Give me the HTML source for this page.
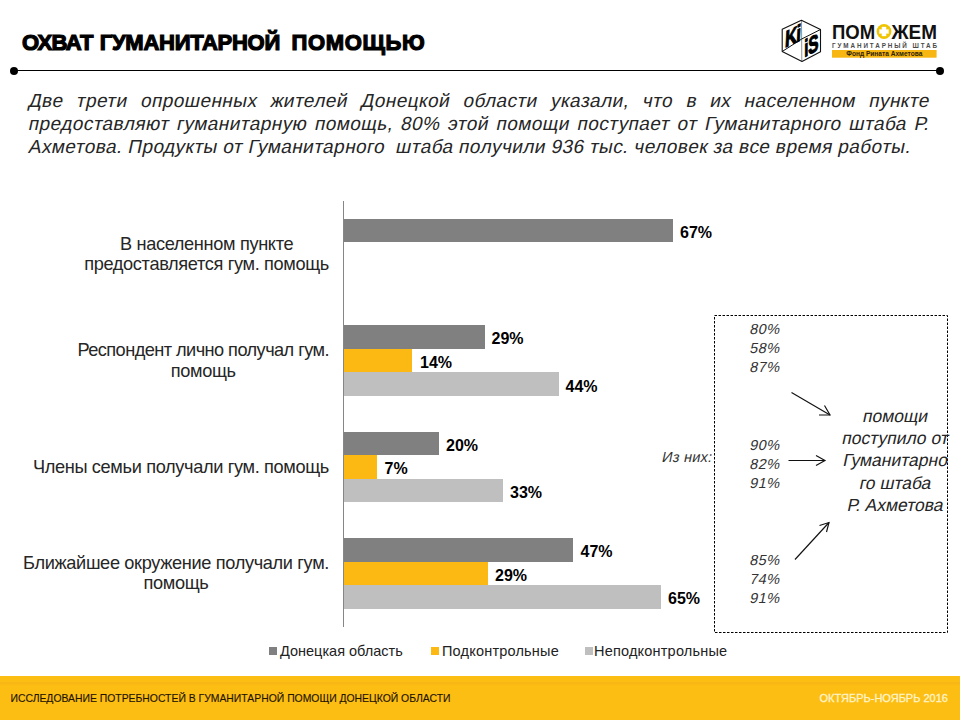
<!DOCTYPE html>
<html><head><meta charset="utf-8">
<style>
*{margin:0;padding:0;box-sizing:border-box}
html,body{width:960px;height:720px;overflow:hidden;background:#fff}
body{position:relative;font-family:"Liberation Sans",sans-serif;color:#000}
.abs{position:absolute;white-space:nowrap}
#title{left:22px;top:30px;font-size:22.6px;font-weight:bold;line-height:26px;transform-origin:0 0;transform:scaleX(0.975);-webkit-text-stroke:1.2px #000}
#rule{left:14px;top:69.5px;width:926px;height:1.5px;background:#000}
.dot{width:8px;height:8px;border-radius:50%;background:#000}
.para{left:28px;width:901px;font-size:19px;line-height:23px;letter-spacing:0.45px;text-align:justify;text-align-last:justify;color:#262626;transform-origin:0 17px;transform:skewX(-12deg)}
.obl{position:absolute;white-space:nowrap;transform-origin:0 15px;transform:skewX(-12deg)}
.cat{font-size:18.2px;letter-spacing:-0.35px;line-height:20.5px;color:#262626;text-align:center;display:inline-block}
.catw{position:absolute;right:631px;text-align:right}
.bar{position:absolute;left:344px;height:23.67px}
.d{background:#808080}.o{background:#FDB913}.l{background:#BFBFBF}
.val{position:absolute;font-size:16px;font-weight:bold;line-height:18px;white-space:nowrap}
.pct{position:absolute;font-size:14.5px;letter-spacing:0.5px;line-height:19px;color:#333;white-space:nowrap}
.leg{position:absolute;top:644px;font-size:14.5px;letter-spacing:0.2px;line-height:14px;color:#222;white-space:nowrap}
.sq{position:absolute;top:647px;width:7.5px;height:7.5px}
#footer{left:0;top:676px;width:960px;height:44px;background:#FDBE14}
.box{position:absolute;left:830px;width:130px;font-size:17.5px;line-height:22px;text-align:center;color:#262626;white-space:nowrap}
</style></head><body>
<div id="title" class="abs"><span style="letter-spacing:-0.7px">ОХВАТ</span><span style="letter-spacing:1px"> </span><span style="letter-spacing:-0.3px">ГУМАНИТАРНОЙ</span><span style="letter-spacing:-0.4px">&nbsp; </span><span style="letter-spacing:0.65px">ПОМОЩЬЮ</span></div>
<div id="rule" class="abs"></div>
<div class="abs dot" style="left:10px;top:66.5px"></div>
<div class="abs dot" style="left:936px;top:66.5px"></div>

<!-- logo -->
<svg class="abs" style="left:770px;top:10px" width="190" height="60" viewBox="770 10 190 60">
  <g stroke="#888" stroke-width="0.9">
    <line x1="801.5" y1="20.5" x2="801.8" y2="61"/>
  </g>
  <g stroke="#111" stroke-width="1" fill="none">
    <line x1="801.7" y1="39" x2="820.5" y2="29.5"/>
    <line x1="801.7" y1="39" x2="782.2" y2="51.5"/>
  </g>
  <g font-family="Liberation Sans" font-weight="bold" fill="#000" stroke="#000" stroke-width="1.1">
    <text transform="translate(784.8 47.8) skewY(-25.2) skewX(-3) scale(0.72 1)" font-size="23">K</text>
    <text transform="translate(796 42.6) skewY(-25.2) skewX(-3) scale(0.72 1)" font-size="23">i</text>
    <text transform="translate(804.2 57.2) skewY(-26.8) scale(0.62 1)" font-size="24">i</text>
    <text transform="translate(808.3 55) skewY(-26.8) scale(0.64 1)" font-size="24">S</text>
  </g>
  <g fill="none" stroke="#111" stroke-width="1.1" stroke-linejoin="round">
    <polygon points="801.4,20.2 820.5,29.5 820.5,51.8 802,61.4 782.2,51.5 782.2,29.2"/>
  </g>
  <text x="832" y="38.6" font-family="Liberation Sans" font-weight="bold" font-size="20" fill="#111" textLength="43.2" lengthAdjust="spacingAndGlyphs">ПОМ</text>
  <text x="891.5" y="38.6" font-family="Liberation Sans" font-weight="bold" font-size="20" fill="#111" textLength="45.4" lengthAdjust="spacingAndGlyphs">ЖЕМ</text>
  <circle cx="884" cy="31.5" r="7.4" fill="#EFC400"/>
  <path d="M881.9 26.9h4.2v2.5h2.5v4.2h-2.5v2.5h-4.2v-2.5h-2.5v-4.2h2.5z" fill="#fff" stroke="#fff" stroke-width="0.3" stroke-linejoin="round"/>
  <text x="832" y="47.8" font-family="Liberation Sans" font-weight="bold" font-size="6.3" fill="#4a4a4a" textLength="105" lengthAdjust="spacing">ГУМАНИТАРНЫЙ  ШТАБ</text>
  <rect x="832" y="50" width="104.6" height="7.7" fill="#F7B612"/>
  <text x="884.3" y="56.4" font-family="Liberation Sans" font-weight="bold" font-size="7.6" fill="#2e2200" text-anchor="middle" textLength="76" lengthAdjust="spacingAndGlyphs">Фонд Рината Ахметова</text>
</svg>

<div class="abs para" style="top:89px">Две трети опрошенных жителей Донецкой области указали, что в их населенном пункте</div>
<div class="abs para" style="top:112px">предоставляют гуманитарную помощь, 80% этой помощи поступает от Гуманитарного штаба Р.</div>
<div class="abs para" style="top:135px;text-align-last:left;word-spacing:-0.25px">Ахметова. Продукты от Гуманитарного&nbsp; штаба получили 936 тыс. человек за все время работы.</div>

<div class="abs" style="left:343px;top:201px;width:1px;height:426px;background:#868686"></div>

<div class="catw" style="top:233.5px"><div class="cat">В населенном пункте<br>предоставляется гум. помощь</div></div>
<div class="catw" style="top:340px"><div class="cat"><span style="letter-spacing:-0.56px">Респондент лично получал гум.</span><br>помощь</div></div>
<div class="catw" style="top:457px"><div class="cat">Члены семьи получали гум. помощь</div></div>
<div class="catw" style="top:552.5px"><div class="cat">Ближайшее окружение получали гум.<br>помощь</div></div>

<div class="bar d" style="top:219px;width:329px;height:23px"></div>
<div class="bar d" style="top:325px;width:141px"></div>
<div class="bar o" style="top:348.7px;width:68px"></div>
<div class="bar l" style="top:372.3px;width:215px"></div>
<div class="bar d" style="top:431.5px;width:95px"></div>
<div class="bar o" style="top:455.2px;width:33px"></div>
<div class="bar l" style="top:478.8px;width:159px"></div>
<div class="bar d" style="top:538px;width:229px"></div>
<div class="bar o" style="top:561.7px;width:144px"></div>
<div class="bar l" style="top:585.3px;width:317px"></div>

<div class="val" style="left:680px;top:224px">67%</div>
<div class="val" style="left:491.5px;top:330px">29%</div>
<div class="val" style="left:420px;top:354px">14%</div>
<div class="val" style="left:565.5px;top:378px">44%</div>
<div class="val" style="left:446px;top:436.5px">20%</div>
<div class="val" style="left:384.5px;top:460px">7%</div>
<div class="val" style="left:510px;top:484px">33%</div>
<div class="val" style="left:580.5px;top:543px">47%</div>
<div class="val" style="left:495px;top:567px">29%</div>
<div class="val" style="left:668px;top:590px">65%</div>

<svg class="abs" style="left:0;top:0" width="960" height="720">
<rect x="714.5" y="315.5" width="233" height="317" fill="none" stroke="#000" stroke-width="1" stroke-dasharray="2.5 1.5"/>
<g stroke="#111" stroke-width="1.15" fill="none">
<line x1="791.5" y1="392.5" x2="830" y2="415"/>
<polyline points="819,415 830,415 824.5,405.5"/>
<line x1="788.5" y1="460.5" x2="825" y2="460.5"/>
<polyline points="816,455.5 825,460.5 816,465.5"/>
<line x1="795" y1="559.5" x2="829" y2="522.5"/>
<polyline points="819.5,525.5 829,522.5 826.5,532"/>
</g>
</svg>

<div class="pct obl" style="left:749px;top:320px">80%</div>
<div class="pct obl" style="left:749px;top:339px">58%</div>
<div class="pct obl" style="left:749px;top:358px">87%</div>
<div class="pct obl" style="left:749px;top:436px">90%</div>
<div class="pct obl" style="left:749px;top:455px">82%</div>
<div class="pct obl" style="left:749px;top:474px">91%</div>
<div class="pct obl" style="left:749px;top:551px">85%</div>
<div class="pct obl" style="left:749px;top:570px">74%</div>
<div class="pct obl" style="left:749px;top:589px">91%</div>
<div class="pct obl" style="left:660.5px;top:448px;letter-spacing:0.28px">Из них:</div>
<div class="box obl" style="top:404.50px">помощи</div>
<div class="box obl" style="top:426.95px">поступило от</div>
<div class="box obl" style="top:449.40px">Гуманитарно</div>
<div class="box obl" style="top:471.85px">го штаба</div>
<div class="box obl" style="top:494.30px">Р. Ахметова</div>

<div class="leg" style="left:280px;letter-spacing:0">Донецкая область</div>
<div class="leg" style="left:442px">Подконтрольные</div>
<div class="leg" style="left:594px">Неподконтрольные</div>
<div class="sq d" style="left:269px"></div>
<div class="sq o" style="left:431px"></div>
<div class="sq l" style="left:585px"></div>

<div id="footer" class="abs"></div>
<svg class="abs" style="left:0;top:676px" width="960" height="44" viewBox="0 676 960 44">
<rect x="0" y="682" width="960" height="2.5" fill="#F9B715"/>
<text x="10.5" y="701.9" font-family="Liberation Sans" font-size="10.4" fill="#1e1400" stroke="#1e1400" stroke-width="0.15" textLength="440" lengthAdjust="spacingAndGlyphs">ИССЛЕДОВАНИЕ ПОТРЕБНОСТЕЙ В ГУМАНИТАРНОЙ ПОМОЩИ ДОНЕЦКОЙ ОБЛАСТИ</text>
<text x="819.5" y="702.2" font-family="Liberation Sans" font-size="10.6" fill="#FFF4C8" stroke="#FFF4C8" stroke-width="0.3" textLength="128.5" lengthAdjust="spacingAndGlyphs">ОКТЯБРЬ-НОЯБРЬ 2016</text>
</svg>
</body></html>
